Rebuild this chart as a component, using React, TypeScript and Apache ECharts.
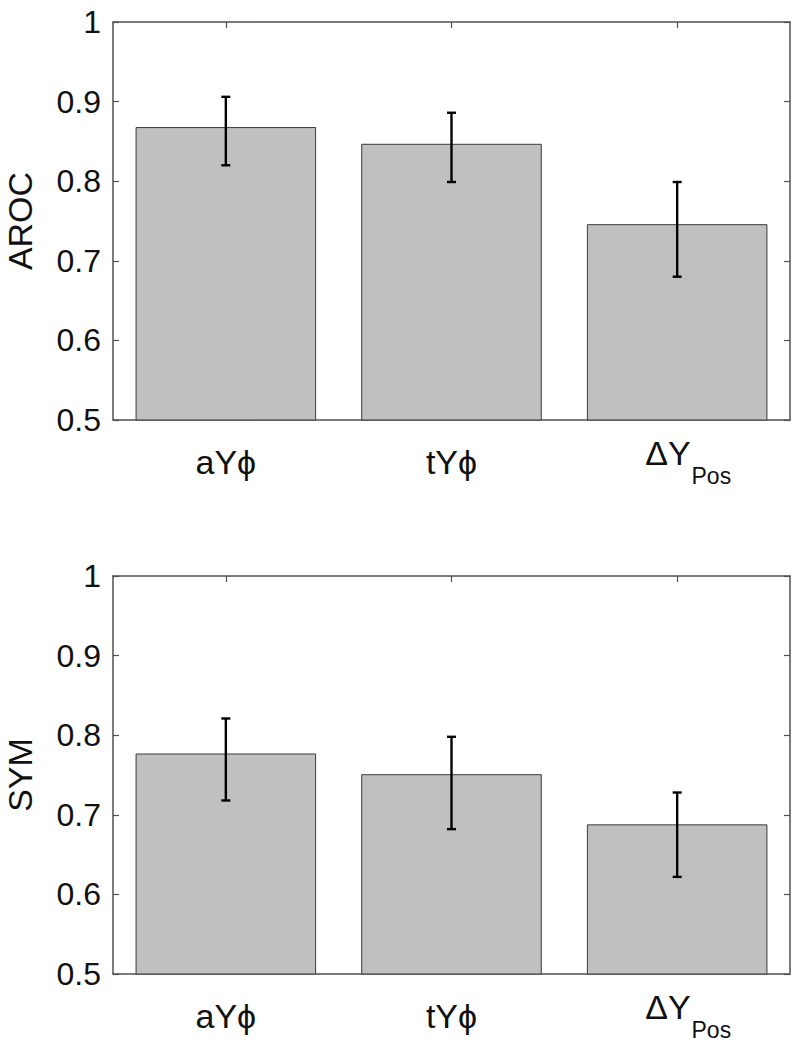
import React, { useEffect, useRef } from "react";
import * as echarts from "echarts";

const categories = ["aYϕ", "tYϕ", "ΔY_Pos"];

const arocMean = [0.868, 0.847, 0.746];
const arocLow = [0.820, 0.799, 0.680];
const arocHigh = [0.906, 0.886, 0.799];

const symMean = [0.777, 0.751, 0.688];
const symLow = [0.718, 0.682, 0.622];
const symHigh = [0.821, 0.798, 0.728];

const yMin = 0.5;
const yMax = 1;
const yInterval = 0.1;

const FONT = "'Liberation Sans', Arial, Helvetica, sans-serif";
const AXIS_COLOR = "#505050";
const TEXT_COLOR = "#111111";

function labelFormatter(v: string) {
  const i = v.indexOf("_");
  if (i < 0) return "{p|" + v + "}";
  return "{m|" + v.slice(0, i) + "}{s|" + v.slice(i + 1) + "}";
}

const richStyles = {
  p: { fontSize: 34, lineHeight: 34, fontFamily: FONT, color: TEXT_COLOR, verticalAlign: "top", padding: [9, 0, 0, 0] },
  m: { fontSize: 34, lineHeight: 34, fontFamily: FONT, color: TEXT_COLOR, verticalAlign: "top", padding: [0, 0, 0, 22] },
  s: { fontSize: 23, lineHeight: 23, fontFamily: FONT, color: TEXT_COLOR, verticalAlign: "top", padding: [28, 0, 0, 1] },
};

function errorRender() {
  return (params: any, api: any) => {
    const idx = api.value(0);
    const top = api.coord([idx, api.value(2)]);
    const bot = api.coord([idx, api.value(1)]);
    const cap = 4.5;
    const style = { stroke: "#000000", lineWidth: 2.4 };
    return {
      type: "group",
      children: [
        { type: "line", shape: { x1: top[0], y1: top[1], x2: bot[0], y2: bot[1] }, style },
        { type: "line", shape: { x1: top[0] - cap, y1: top[1], x2: top[0] + cap, y2: top[1] }, style },
        { type: "line", shape: { x1: bot[0] - cap, y1: bot[1], x2: bot[0] + cap, y2: bot[1] }, style },
      ],
    };
  };
}

export default function App() {
  const ref = useRef<HTMLDivElement>(null);

  useEffect(() => {
    document.body.style.margin = "0";
    if (!ref.current) return;
    const chart = echarts.init(ref.current, null, { renderer: "svg" });

    const axisLine = { show: true, lineStyle: { color: AXIS_COLOR, width: 1.5 } };
    const tickStyle = { show: true, inside: true, length: 6, lineStyle: { color: AXIS_COLOR, width: 1.2 } };

    const makeX = (grid: number) => [
      {
        type: "category",
        gridIndex: grid,
        position: "bottom",
        data: categories,
        axisLine,
        axisTick: { show: false },
        axisLabel: { margin: 16, formatter: labelFormatter, rich: richStyles, interval: 0 },
        splitLine: { show: false },
      },
      {
        type: "category",
        gridIndex: grid,
        position: "top",
        data: categories,
        axisLine,
        axisTick: { ...tickStyle, alignWithLabel: true },
        axisLabel: { show: false },
        splitLine: { show: false },
      },
    ];

    const makeY = (grid: number, name: string) => [
      {
        type: "value",
        gridIndex: grid,
        position: "left",
        min: yMin,
        max: yMax,
        interval: yInterval,
        name,
        nameLocation: "middle",
        nameGap: 76,
        nameTextStyle: { fontSize: 34, fontFamily: FONT, color: TEXT_COLOR },
        axisLine,
        axisTick: tickStyle,
        axisLabel: {
          fontSize: 32,
          fontFamily: FONT,
          color: TEXT_COLOR,
          margin: 12,
          formatter: (v: number) => String(+v.toFixed(1)),
        },
        splitLine: { show: false },
      },
      {
        type: "value",
        gridIndex: grid,
        position: "right",
        min: yMin,
        max: yMax,
        interval: yInterval,
        axisLine,
        axisTick: tickStyle,
        axisLabel: { show: false },
        splitLine: { show: false },
      },
    ];

    const barSeries = (idx: number, data: number[]) => ({
      type: "bar",
      xAxisIndex: idx * 2,
      yAxisIndex: idx * 2,
      data,
      barWidth: "80%",
      clip: true,
      itemStyle: { color: "#c0c0c0", borderColor: "#3a3a3a", borderWidth: 1 },
      z: 2,
    });

    const errSeries = (idx: number, low: number[], high: number[]) => ({
      type: "custom",
      xAxisIndex: idx * 2,
      yAxisIndex: idx * 2,
      data: low.map((l, i) => [i, l, high[i]]),
      encode: { x: 0, y: [1, 2] },
      renderItem: errorRender(),
      z: 5,
    });

    chart.setOption({
      animation: false,
      backgroundColor: "#ffffff",
      grid: [
        { left: 113, top: 22, width: 677, height: 398, containLabel: false, outerBoundsMode: "none" },
        { left: 113, top: 576, width: 677, height: 398, containLabel: false, outerBoundsMode: "none" },
      ],
      xAxis: [...makeX(0), ...makeX(1)],
      yAxis: [...makeY(0, "AROC"), ...makeY(1, "SYM")],
      series: [
        barSeries(0, arocMean),
        errSeries(0, arocLow, arocHigh),
        barSeries(1, symMean),
        errSeries(1, symLow, symHigh),
      ],
    });

    return () => chart.dispose();
  }, []);

  return <div ref={ref} style={{ width: 800, height: 1048 }} />;
}
